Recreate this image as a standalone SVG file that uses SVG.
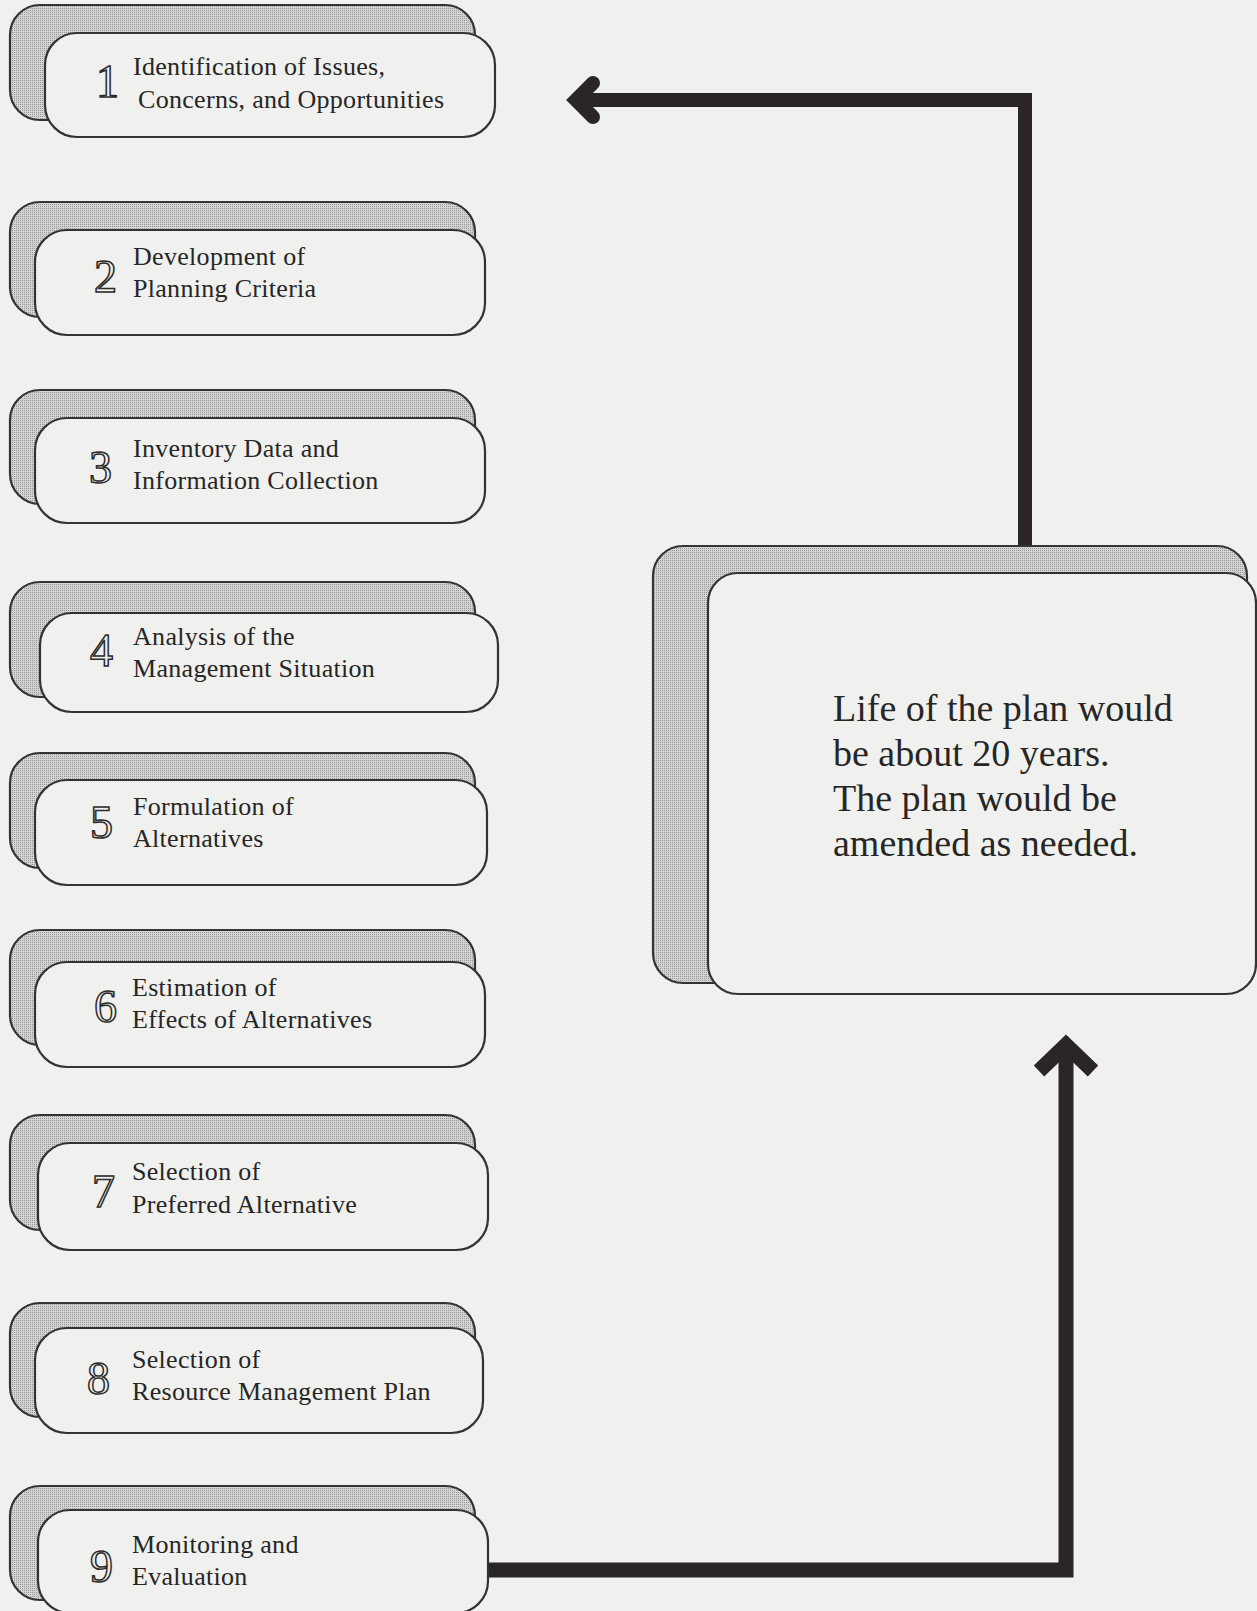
<svg xmlns="http://www.w3.org/2000/svg" width="1257" height="1611" viewBox="0 0 1257 1611">
<defs>
<pattern id="stip" width="2" height="2" patternUnits="userSpaceOnUse">
<rect width="2" height="2" fill="#d4d4d2"/>
<rect width="1" height="1" fill="#969694"/>
</pattern>
<style>
.sh{fill:url(#stip);stroke:#333;stroke-width:2.2}
.fr{fill:#f0f0ee;stroke:#333;stroke-width:2.2}
.t{font-family:"Liberation Serif","Times New Roman",serif;font-size:26px;letter-spacing:0.3px;fill:#262626}
.n{font-family:"Liberation Serif","Times New Roman",serif;font-size:46px;fill:#f0f0ee;stroke:#2b2b2b;stroke-width:1.5}
.big{font-family:"Liberation Serif","Times New Roman",serif;font-size:38px;fill:#262626}
.c{fill:none;stroke:#2a2627;stroke-width:14;stroke-linejoin:miter}
</style>
</defs>
<rect width="1257" height="1611" fill="#f0f0ee"/>

<g id="connectors">
<polyline class="c" points="576,100 1025,100 1025,548"/>
<polyline class="c" points="593,83 576,100 593,117" stroke-linecap="round"/>
<polyline class="c" style="stroke-width:15" points="486,1570 1066,1570 1066,1045"/>
<polyline class="c" style="stroke-width:15" points="1039,1071 1066,1045 1093,1071"/>
</g>

<g id="node1">
<rect class="sh" x="10" y="5" width="465" height="115" rx="30"/>
<rect class="fr" x="45" y="33" width="450" height="104" rx="32"/>
<text class="n" x="96" y="97">1</text>
<text class="t" x="133" y="75">Identification of Issues,</text>
<text class="t" x="138" y="108">Concerns, and Opportunities</text>
</g>

<g id="node2">
<rect class="sh" x="10" y="202" width="465" height="115" rx="30"/>
<rect class="fr" x="35" y="230" width="450" height="105" rx="32"/>
<text class="n" x="94" y="292">2</text>
<text class="t" x="133" y="265">Development of</text>
<text class="t" x="133" y="297">Planning Criteria</text>
</g>

<g id="node3">
<rect class="sh" x="10" y="390" width="465" height="114" rx="30"/>
<rect class="fr" x="35" y="418" width="450" height="105" rx="32"/>
<text class="n" x="89" y="483">3</text>
<text class="t" x="133" y="457">Inventory Data and</text>
<text class="t" x="133" y="489">Information Collection</text>
</g>

<g id="node4">
<rect class="sh" x="10" y="582" width="465" height="115" rx="30"/>
<rect class="fr" x="40" y="613" width="458" height="99" rx="32"/>
<text class="n" x="90" y="666">4</text>
<text class="t" x="133" y="645">Analysis of the</text>
<text class="t" x="133" y="677">Management Situation</text>
</g>

<g id="node5">
<rect class="sh" x="10" y="753" width="465" height="115" rx="30"/>
<rect class="fr" x="35" y="780" width="452" height="105" rx="32"/>
<text class="n" x="90" y="838">5</text>
<text class="t" x="133" y="815">Formulation of</text>
<text class="t" x="133" y="847">Alternatives</text>
</g>

<g id="node6">
<rect class="sh" x="10" y="930" width="465" height="115" rx="30"/>
<rect class="fr" x="35" y="962" width="450" height="105" rx="32"/>
<text class="n" x="94" y="1022">6</text>
<text class="t" x="132" y="996">Estimation of</text>
<text class="t" x="132" y="1028">Effects of Alternatives</text>
</g>

<g id="node7">
<rect class="sh" x="10" y="1115" width="465" height="115" rx="30"/>
<rect class="fr" x="38" y="1143" width="450" height="107" rx="32"/>
<text class="n" x="92" y="1207">7</text>
<text class="t" x="132" y="1180">Selection of</text>
<text class="t" x="132" y="1213">Preferred Alternative</text>
</g>

<g id="node8">
<rect class="sh" x="10" y="1303" width="465" height="114" rx="30"/>
<rect class="fr" x="35" y="1328" width="448" height="105" rx="32"/>
<text class="n" x="87" y="1394">8</text>
<text class="t" x="132" y="1368">Selection of</text>
<text class="t" x="132" y="1400">Resource Management Plan</text>
</g>

<g id="node9">
<rect class="sh" x="10" y="1486" width="465" height="114" rx="30"/>
<rect class="fr" x="38" y="1510" width="450" height="103" rx="32"/>
<text class="n" x="90" y="1582">9</text>
<text class="t" x="132" y="1553">Monitoring and</text>
<text class="t" x="132" y="1585">Evaluation</text>
</g>

<g id="node10">
<rect class="sh" x="653" y="546" width="594" height="437" rx="30"/>
<rect class="fr" x="708" y="573" width="548" height="421" rx="30"/>
<text class="big" x="833" y="721">Life of the plan would</text>
<text class="big" x="833" y="766">be about 20 years.</text>
<text class="big" x="833" y="811">The plan would be</text>
<text class="big" x="833" y="856">amended as needed.</text>
</g>
</svg>
